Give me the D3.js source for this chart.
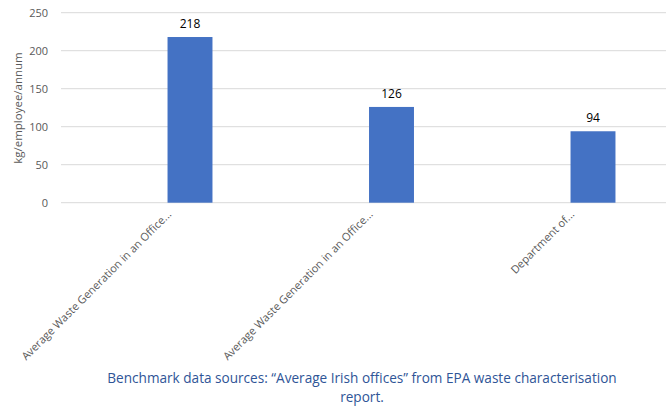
<!DOCTYPE html>
<html>
<head>
<meta charset="utf-8">
<script src="https://cdn.jsdelivr.net/npm/d3@7"></script>
<style>
  body { margin: 0; background: #fff; }
  text { font-family: "Open Sans", "Liberation Sans", Arial, sans-serif; }
</style>
</head>
<body>
<script>
// chart data
var categories = [
    "Average Waste Generation in an Office...",
    "Average Waste Generation in an Office...",
    "Department of..."
];
var values = [218, 126, 94];
var yTicks = [0, 50, 100, 150, 200, 250];
var yTitle = "kg/employee/annum";
var caption = [
    "Benchmark data sources: \u201cAverage Irish offices\u201d from EPA waste characterisation",
    "report."
];

var width = 666, height = 409;

var svg = d3.select("body").append("svg")
    .attr("width", width)
    .attr("height", height);

var y = d3.scaleLinear()
    .domain([0, 250])
    .range([202.7, 12.7]);

var x = d3.scaleBand()
    .domain(d3.range(categories.length))
    .range([89.25, 693.75])
    .paddingInner(0.777)
    .paddingOuter(0.3885);

// gridlines
svg.append("g").selectAll("line")
    .data(yTicks)
    .enter().append("line")
    .attr("x1", 61).attr("x2", width)
    .attr("y1", function (d) { return y(d); })
    .attr("y2", function (d) { return y(d); })
    .attr("stroke", "#d9d9d9")
    .attr("stroke-width", 1);

// y tick labels
svg.append("g").selectAll("text")
    .data(yTicks)
    .enter().append("text")
    .attr("x", 48)
    .attr("y", function (d) { return y(d); })
    .attr("dy", "0.35em")
    .attr("text-anchor", "end")
    .attr("font-size", 11)
    .attr("fill", "#595959")
    .text(function (d) { return d; });

// y title
svg.append("text")
    .attr("transform", "translate(22,108) rotate(-90)")
    .attr("text-anchor", "middle")
    .attr("font-size", 11.5)
    .attr("fill", "#595959")
    .text(yTitle);

// bars
svg.append("g").selectAll("rect")
    .data(values)
    .enter().append("rect")
    .attr("x", function (d, i) { return x(i); })
    .attr("width", x.bandwidth())
    .attr("y", function (d) { return y(d); })
    .attr("height", function (d) { return y(0) - y(d); })
    .attr("fill", "#4472c4");

// value labels
svg.append("g").selectAll("text")
    .data(values)
    .enter().append("text")
    .attr("x", function (d, i) { return x(i) + x.bandwidth() / 2; })
    .attr("y", function (d) { return y(d) - 9; })
    .attr("text-anchor", "middle")
    .attr("font-size", 12)
    .attr("fill", "#000")
    .text(function (d) { return d; });

// category labels, rotated
svg.append("g").selectAll("text")
    .data(categories)
    .enter().append("text")
    .attr("transform", function (d, i) {
        var cx = x(i) + x.bandwidth() / 2;
        return "translate(" + (cx - 18) + ",215) rotate(-45)";
    })
    .attr("text-anchor", "end")
    .attr("font-size", 11)
    .attr("fill", "#595959")
    .text(function (d) { return d; });

// caption
svg.append("g").selectAll("text")
    .data(caption)
    .enter().append("text")
    .attr("x", 362)
    .attr("y", function (d, i) { return 383 + i * 18.5; })
    .attr("text-anchor", "middle")
    .attr("font-size", 13.6)
    .attr("fill", "#2f5597")
    .text(function (d) { return d; });
</script>
</body>
</html>
